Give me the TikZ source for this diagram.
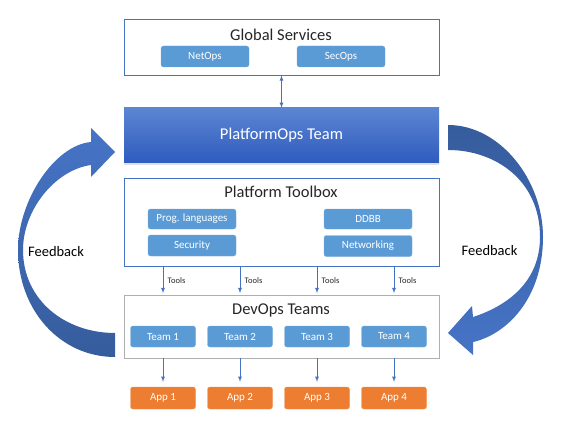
\documentclass[tikz,border=0pt]{standalone}
\usepackage{fontspec}
\setmainfont{Carlito}
\usetikzlibrary{positioning,shadows}

\definecolor{frameblue}{RGB}{68,114,196}
\definecolor{toolblue}{RGB}{91,155,213}
\definecolor{apporange}{RGB}{237,125,49}
\definecolor{framegray}{RGB}{175,175,175}
\definecolor{loopdark}{RGB}{54,92,156}
\definecolor{looplight}{RGB}{70,116,198}

\begin{document}
\begin{tikzpicture}[
        x=1pt, y=-1pt,
        every node/.style={
            font=\fontsize{11}{13}\selectfont
        },
        frame/.style={draw=frameblue, line width=0.8pt, minimum width=315pt, inner sep=0pt},
        title/.style={font=\fontsize{16.5}{18}\selectfont, text=black!85},
        toolbox/.style={fill=toolblue, draw=toolblue!85!white, rounded corners=2.5pt,
            text=white, inner sep=0pt, minimum width=88pt, minimum height=21pt},
        teambox/.style={toolbox, minimum width=65pt},
        appbox/.style={teambox, fill=apporange, draw=apporange!85!white, minimum height=22pt},
        arr/.style={draw=frameblue, line width=0.8pt, -latex},
        toolslabel/.style={font=\fontsize{8.5}{10}\selectfont, text=black!85}
    ]
        \useasboundingbox (0,0) rectangle (561,438);

        % Global services
        \node[frame, minimum height=56pt] (global) at (281.5,47) {};
        \node[title] (globaltitle) at (281,35) {Global Services};
        \node[toolbox] (netops) at (205,56.5) {NetOps};
        \node[toolbox] (secops) at (341,56.5) {SecOps};

        % PlatformOps team
        \node[minimum width=315pt, minimum height=55pt, inner sep=0pt,
            top color={rgb,255:red,92;green,133;blue,210},
            bottom color={rgb,255:red,46;green,92;blue,190},
            drop shadow={shadow xshift=0pt, shadow yshift=-2pt, opacity=0.25},
            text=white, font=\fontsize{16.5}{18}\selectfont] (platops) at (281.5,135.5) {PlatformOps Team};

        \draw[arr, latex-latex] (global.south) -- (platops.north);

        % Platform toolbox
        \node[frame, minimum height=88pt] (toolbox) at (281.5,222) {};
        \node[title] (toolboxtitle) at (281,192) {Platform Toolbox};
        \node[toolbox, minimum height=20pt] (prog) at (192,219) {Prog. languages};
        \node[toolbox] (security) at (192,245.5) {Security};
        \node[toolbox, minimum height=20pt] (ddbb) at (368,219) {DDBB};
        \node[toolbox] (networking) at (368,246) {Networking};

        % DevOps teams
        \node[frame, draw=framegray, minimum height=63pt] (devops) at (281.5,326.5) {};
        \node[title] (devopstitle) at (281,310) {DevOps Teams};
        \node[teambox] (team1) at (163,336.5) {Team 1};
        \node[teambox] (team2) at (240,336.5) {Team 2};
        \node[teambox] (team3) at (317,336.5) {Team 3};
        \node[teambox] (team4) at (394,336.5) {Team 4};

        % Apps
        \node[appbox] (app1) at (163,398) {App 1};
        \node[appbox] (app2) at (240,398) {App 2};
        \node[appbox] (app3) at (317,398) {App 3};
        \node[appbox] (app4) at (394,398) {App 4};

        % Tools
        \draw[arr, shorten >=1.5pt] (team1 |- toolbox.south) -- (team1 |- devops.north)
            node[toolslabel, midway, right=1pt] {Tools};
        \draw[arr, shorten >=1.5pt] (team2 |- toolbox.south) -- (team2 |- devops.north)
            node[toolslabel, midway, right=1pt] {Tools};
        \draw[arr, shorten >=1.5pt] (team3 |- toolbox.south) -- (team3 |- devops.north)
            node[toolslabel, midway, right=1pt] {Tools};
        \draw[arr, shorten >=1.5pt] (team4 |- toolbox.south) -- (team4 |- devops.north)
            node[toolslabel, midway, right=1pt] {Tools};

        \draw[arr, shorten >=5pt] (team1 |- devops.south) -- (app1.north);
        \draw[arr, shorten >=5pt] (team2 |- devops.south) -- (app2.north);
        \draw[arr, shorten >=5pt] (team3 |- devops.south) -- (app3.north);
        \draw[arr, shorten >=5pt] (team4 |- devops.south) -- (app4.north);

        % Feedback loops
        \shade[top color=looplight, bottom color=loopdark]
            (115,357) .. controls (60,357) and (18,310) .. (18,250)
            .. controls (18,200) and (55,145) .. (91,142)
            -- (91,128) -- (115,152) -- (91,177) -- (91,165)
            .. controls (55,170) and (23,210) .. (23,250)
            .. controls (23,300) and (65,333) .. (115,333) -- cycle;
        \node (feedbackleft) at (56,252) {\fontsize{14.5}{16}\selectfont Feedback};

        \shade[top color=loopdark, bottom color=looplight]
            (448,125) .. controls (500,125) and (543,180) .. (543,237)
            .. controls (543,300) and (505,335) .. (473,342)
            -- (473,355) -- (448,333) -- (472,306) -- (473,317)
            .. controls (510,305) and (540,280) .. (540,237)
            .. controls (540,180) and (495,150) .. (448,150) -- cycle;
        \node (feedbackright) at (489.5,251) {\fontsize{14.5}{16}\selectfont Feedback};

    \end{tikzpicture}
\end{document}
